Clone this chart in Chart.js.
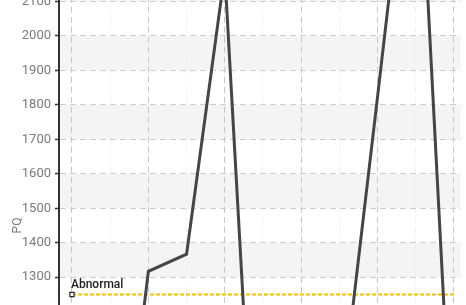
<!DOCTYPE html>
<html>
<head>
<meta charset="utf-8">
<script src="https://cdn.jsdelivr.net/npm/chart.js@4"></script>
<style>
  html, body { margin: 0; padding: 0; background: #fff; overflow: hidden; }
  #wrap { position: absolute; left: 0; top: -45px; width: 466px; height: 541px; }
</style>
</head>
<body>
<div id="wrap"><canvas id="chart" width="466" height="541"></canvas></div>
<script>
// sample positions (half steps between the labelled gridlines)
const samples = [0, 1, 2, 3, 4, 5, 6, 7, 8, 9, 10];
// PQ readings (values under ~1220 fall outside the view)
const pqValues = [350, 400, 1317, 1367, 2183, 205, 300, 880, 1823, 2780, 660];
// abnormal threshold
const abnormalLevel = 1250;
const abnormalLabel = 'Abnormal';
// y tick labels
const yMin = 700, yMax = 2200, yStep = 100;

const ctx = document.getElementById('chart').getContext('2d');

// alternating grey bands between the y ticks
const bandsPlugin = {
  id: 'bands',
  beforeDraw(chart) {
    const { ctx, chartArea, scales } = chart;
    ctx.save();
    ctx.fillStyle = '#f4f4f4';
    for (let v = yMin; v < yMax; v += yStep) {
      if ((v / yStep) % 2 === 1) {
        const top = scales.y.getPixelForValue(v + yStep);
        const bottom = scales.y.getPixelForValue(v);
        ctx.fillRect(chartArea.left, top, chartArea.right - chartArea.left, bottom - top);
      }
    }
    ctx.restore();
  }
};

// text label next to the threshold marker
const thresholdLabel = {
  id: 'thresholdLabel',
  afterDatasetsDraw(chart) {
    const pt = chart.getDatasetMeta(1).data[0];
    const c = chart.ctx;
    c.save();
    c.font = '500 12px Roboto';
    c.fillStyle = '#222';
    c.textBaseline = 'bottom';
    c.fillText(abnormalLabel, pt.x - 1, pt.y - 3);
    c.restore();
  }
};

new Chart(ctx, {
  type: 'line',
  data: {
    datasets: [
      {
        label: 'PQ',
        data: samples.map((x, i) => ({ x, y: pqValues[i] })),
        borderColor: '#454545',
        borderWidth: 3,
        pointRadius: 0,
        tension: 0
      },
      {
        label: abnormalLabel,
        data: [{ x: samples[0], y: abnormalLevel }, { x: samples[samples.length - 1], y: abnormalLevel }],
        borderColor: '#f5c000',
        borderWidth: 2,
        borderDash: [4, 2],
        pointStyle: 'rect',
        pointRadius: c => c.dataIndex === 0 ? 3 : 0,
        pointBackgroundColor: '#fff',
        pointBorderColor: '#222',
        pointBorderWidth: 1.2
      }
    ]
  },
  options: {
    responsive: false,
    animation: false,
    layout: { padding: { top: 10, bottom: 10, left: 0, right: 0 } },
    plugins: { legend: { display: false }, tooltip: { enabled: false } },
    scales: {
      x: {
        type: 'linear',
        min: -0.34,
        max: 10.18,
        ticks: { display: false, stepSize: 1 },
        afterBuildTicks: s => { s.ticks = samples.map(v => ({ value: v })); },
        border: { display: false, dash: [6, 4] },
        grid: {
          drawTicks: false,
          color: c => c.tick && c.tick.value % 2 === 0 ? '#c6c6c6' : '#f0f0f0'
        }
      },
      y: {
        min: yMin,
        max: yMax,
        afterFit: s => { s.width = 59; },
        ticks: {
          stepSize: yStep,
          color: '#7a7a7a',
          padding: 4,
          callback: v => String(v),
          font: { family: 'Roboto', size: 13 }
        },
        border: { display: true, color: '#333', width: 2, dash: [6, 4] },
        grid: {
          color: '#cdcdcd',
          tickLength: 4,
          tickColor: '#333',
          tickBorderDash: [],
          tickWidth: 1.5
        },
        title: {
          display: true,
          text: 'PQ',
          color: '#7a7a7a',
          font: { family: 'Roboto', size: 12 },
          padding: { top: 11, bottom: 0 }
        }
      }
    }
  },
  plugins: [bandsPlugin, thresholdLabel]
});
</script>
</body>
</html>
